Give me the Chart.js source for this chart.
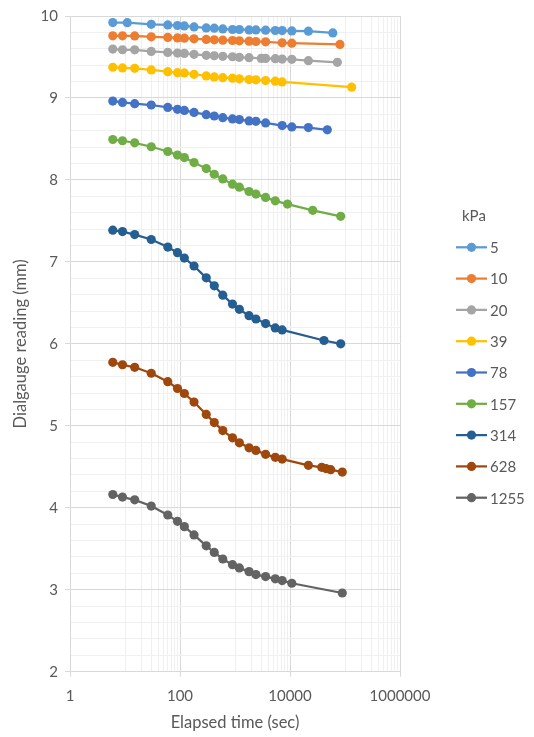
<!DOCTYPE html>
<html>
<head>
<meta charset="utf-8">
<script src="https://cdn.jsdelivr.net/npm/chart.js@4.4.1/dist/chart.umd.min.js"></script>
<style>
  html, body { margin: 0; padding: 0; background: #ffffff; }
  #c { display: block; }
</style>
</head>
<body>
<canvas id="c" width="534" height="737"></canvas>
<script>
// ---------------- DATA ----------------
const seriesLabels = ['5', '10', '20', '39', '78', '157', '314', '628', '1255'];
const legendTitle = 'kPa';

const time5 = [6, 11, 30, 60, 90, 120, 180, 300, 420, 600, 900, 1200, 1800, 2400, 3600, 5400, 7200, 10800, 21600, 60000];
const read5 = [9.920, 9.918, 9.899, 9.891, 9.884, 9.879, 9.867, 9.855, 9.851, 9.842, 9.835, 9.835, 9.830, 9.830, 9.827, 9.823, 9.822, 9.818, 9.815, 9.794];

const time10 = [6, 9, 15, 30, 60, 90, 120, 180, 300, 420, 600, 900, 1200, 1800, 2400, 3600, 7200, 10800, 81000];
const read10 = [9.758, 9.758, 9.757, 9.746, 9.738, 9.733, 9.730, 9.721, 9.714, 9.709, 9.705, 9.701, 9.697, 9.693, 9.689, 9.685, 9.673, 9.669, 9.653];

const time20 = [6, 9, 15, 30, 60, 90, 120, 180, 300, 420, 600, 900, 1200, 1800, 3000, 3600, 5400, 7200, 10800, 21600, 72600];
const read20 = [9.596, 9.588, 9.587, 9.568, 9.556, 9.548, 9.544, 9.532, 9.520, 9.515, 9.508, 9.503, 9.496, 9.491, 9.483, 9.482, 9.479, 9.475, 9.471, 9.455, 9.435];

const time39 = [6, 9, 15, 30, 60, 90, 120, 180, 300, 420, 600, 900, 1200, 1800, 2400, 3600, 5400, 7200, 132000];
const read39 = [9.375, 9.366, 9.362, 9.342, 9.321, 9.309, 9.305, 9.289, 9.269, 9.257, 9.248, 9.241, 9.233, 9.224, 9.221, 9.212, 9.205, 9.196, 9.132];

const time78 = [6, 9, 15, 30, 60, 90, 120, 180, 300, 420, 600, 900, 1200, 1800, 2400, 3600, 7200, 10800, 21600, 47700];
const read78 = [8.962, 8.945, 8.930, 8.914, 8.885, 8.861, 8.848, 8.824, 8.796, 8.780, 8.759, 8.744, 8.736, 8.720, 8.715, 8.696, 8.663, 8.647, 8.639, 8.611];

const time157 = [6, 9, 15, 30, 60, 90, 120, 180, 300, 420, 600, 900, 1200, 1800, 2400, 3600, 5400, 9000, 25900, 83500];
const read157 = [8.493, 8.478, 8.453, 8.405, 8.347, 8.303, 8.273, 8.212, 8.138, 8.069, 8.012, 7.948, 7.912, 7.859, 7.827, 7.787, 7.745, 7.705, 7.629, 7.556];

const time314 = [6, 9, 15, 30, 60, 90, 120, 180, 300, 420, 600, 900, 1200, 1800, 2400, 3600, 5400, 7200, 41500, 83500];
const read314 = [7.387, 7.370, 7.333, 7.273, 7.181, 7.112, 7.047, 6.950, 6.805, 6.708, 6.594, 6.485, 6.421, 6.344, 6.303, 6.247, 6.194, 6.170, 6.041, 6.000];

const time628 = [6, 9, 15, 30, 60, 90, 120, 180, 300, 420, 600, 900, 1200, 1800, 2400, 3600, 5400, 7200, 21600, 37700, 45100, 55000, 89300];
const read628 = [5.775, 5.745, 5.714, 5.641, 5.539, 5.455, 5.394, 5.290, 5.139, 5.039, 4.942, 4.853, 4.793, 4.732, 4.700, 4.652, 4.615, 4.594, 4.518, 4.494, 4.478, 4.465, 4.436];

const time1255 = [6, 9, 15, 30, 60, 90, 120, 180, 300, 420, 600, 900, 1200, 1800, 2400, 3600, 5400, 7200, 10800, 89300];
const read1255 = [4.162, 4.130, 4.097, 4.021, 3.912, 3.835, 3.770, 3.669, 3.536, 3.455, 3.375, 3.306, 3.266, 3.221, 3.185, 3.161, 3.133, 3.112, 3.079, 2.960];

const xMajorTicks = [1, 100, 10000, 1000000];
const xMinorTicks = [10, 20, 30, 40, 50, 60, 70, 80, 90,
                     1000, 2000, 3000, 4000, 5000, 6000, 7000, 8000, 9000,
                     100000, 200000, 300000, 400000, 500000, 600000, 700000, 800000, 900000];
const yMajorTicks = [2, 3, 4, 5, 6, 7, 8, 9, 10];

const xTitle = 'Elapsed time (sec)';
const yTitle = 'Dialgauge reading (mm)';

// ---------------- STYLE ----------------
const seriesColors = ['#5B9BD5', '#ED7D31', '#A5A5A5', '#FFC000', '#4472C4', '#70AD47', '#255E91', '#9E480E', '#636363'];
const FONT = 'Lato, "Open Sans", "Liberation Sans", sans-serif';
const TEXT = '#595959';
const GRID_MAJOR = '#d9d9d9';
const GRID_MINOR = '#f0f0f0';

const times = [time5, time10, time20, time39, time78, time157, time314, time628, time1255];
const reads = [read5, read10, read20, read39, read78, read157, read314, read628, read1255];

const datasets = seriesLabels.map((lab, i) => ({
  label: lab,
  data: times[i].map((t, k) => ({ x: t, y: reads[i][k] })),
  borderColor: seriesColors[i],
  backgroundColor: seriesColors[i],
  pointBackgroundColor: seriesColors[i],
  pointBorderColor: seriesColors[i],
  pointBorderWidth: 0,
  pointRadius: 4.6,
  pointHoverRadius: 4.6,
  borderWidth: 2.25,
  tension: 0,
  fill: false
}));

const xTickValues = xMajorTicks.concat(xMinorTicks).sort((a, b) => a - b);
const yTickValues = [];
for (let i = 0; i <= 40; i++) yTickValues.push(Math.round((2 + i * 0.2) * 10) / 10);
const isYMajor = v => yMajorTicks.includes(Math.round(v * 10) / 10);

const sideLegend = {
  id: 'sideLegend',
  afterDraw(chart) {
    const ctx = chart.ctx;
    const ca = chart.chartArea;
    const lineX = ca.right + 56;
    const textX = lineX + 34;
    const top = 216;
    const step = 31.3;
    ctx.save();
    ctx.font = '15px ' + FONT;
    ctx.fillStyle = TEXT;
    ctx.textAlign = 'left';
    ctx.textBaseline = 'middle';
    ctx.fillText(legendTitle, lineX + 6, top);
    chart.data.datasets.forEach((ds, i) => {
      const y = top + step * (i + 1);
      ctx.strokeStyle = ds.borderColor;
      ctx.lineWidth = 2.25;
      ctx.beginPath();
      ctx.moveTo(lineX, y);
      ctx.lineTo(lineX + 31, y);
      ctx.stroke();
      ctx.fillStyle = ds.borderColor;
      ctx.beginPath();
      ctx.arc(lineX + 15.5, y, 4.6, 0, Math.PI * 2);
      ctx.fill();
      ctx.fillStyle = TEXT;
      ctx.fillText(ds.label, textX, y + 1);
    });
    ctx.restore();
  }
};

new Chart(document.getElementById('c'), {
  type: 'line',
  data: { datasets },
  options: {
    responsive: false,
    animation: false,
    devicePixelRatio: 1,
    layout: { padding: { top: 11.7, right: 134, bottom: 0, left: 0 } },
    plugins: {
      legend: { display: false },
      tooltip: { enabled: false }
    },
    scales: {
      x: {
        type: 'logarithmic',
        min: 1,
        max: 1000000,
        afterBuildTicks: (scale) => { scale.ticks = xTickValues.map(v => ({ value: v })); },
        afterFit: (scale) => { scale.height = 65.3; },
        ticks: {
          autoSkip: false,
          maxRotation: 0,
          padding: 10,
          color: TEXT,
          font: { family: FONT, size: 15 },
          callback: (v) => xMajorTicks.includes(v) ? String(v) : ''
        },
        grid: {
          color: (c) => xMajorTicks.includes(c.tick && c.tick.value) ? GRID_MAJOR : GRID_MINOR,
          tickColor: (c) => xMajorTicks.includes(c.tick && c.tick.value) ? GRID_MAJOR : 'rgba(0,0,0,0)',
          tickLength: 5,
          lineWidth: 1
        },
        border: { color: GRID_MAJOR, width: 1 },
        title: {
          display: true,
          text: xTitle,
          color: TEXT,
          font: { family: FONT, size: 16.5 },
          padding: { top: 4, bottom: 4 }
        }
      },
      y: {
        type: 'linear',
        min: 2,
        max: 10,
        afterBuildTicks: (scale) => { scale.ticks = yTickValues.map(v => ({ value: v })); },
        afterFit: (scale) => { scale.width = 70; },
        ticks: {
          autoSkip: false,
          padding: 7,
          color: TEXT,
          font: { family: FONT, size: 15 },
          callback: (v) => isYMajor(v) ? String(Math.round(v)) : ''
        },
        grid: {
          color: (c) => isYMajor(c.tick ? c.tick.value : 0) ? GRID_MAJOR : GRID_MINOR,
          tickColor: (c) => isYMajor(c.tick ? c.tick.value : 0) ? GRID_MAJOR : 'rgba(0,0,0,0)',
          tickLength: 5,
          lineWidth: 1
        },
        border: { color: GRID_MAJOR, width: 1 },
        title: {
          display: true,
          text: yTitle,
          color: TEXT,
          font: { family: FONT, size: 16.5 },
          padding: { top: 10.5, bottom: 4 }
        }
      }
    }
  },
  plugins: [sideLegend]
});
</script>
</body>
</html>
